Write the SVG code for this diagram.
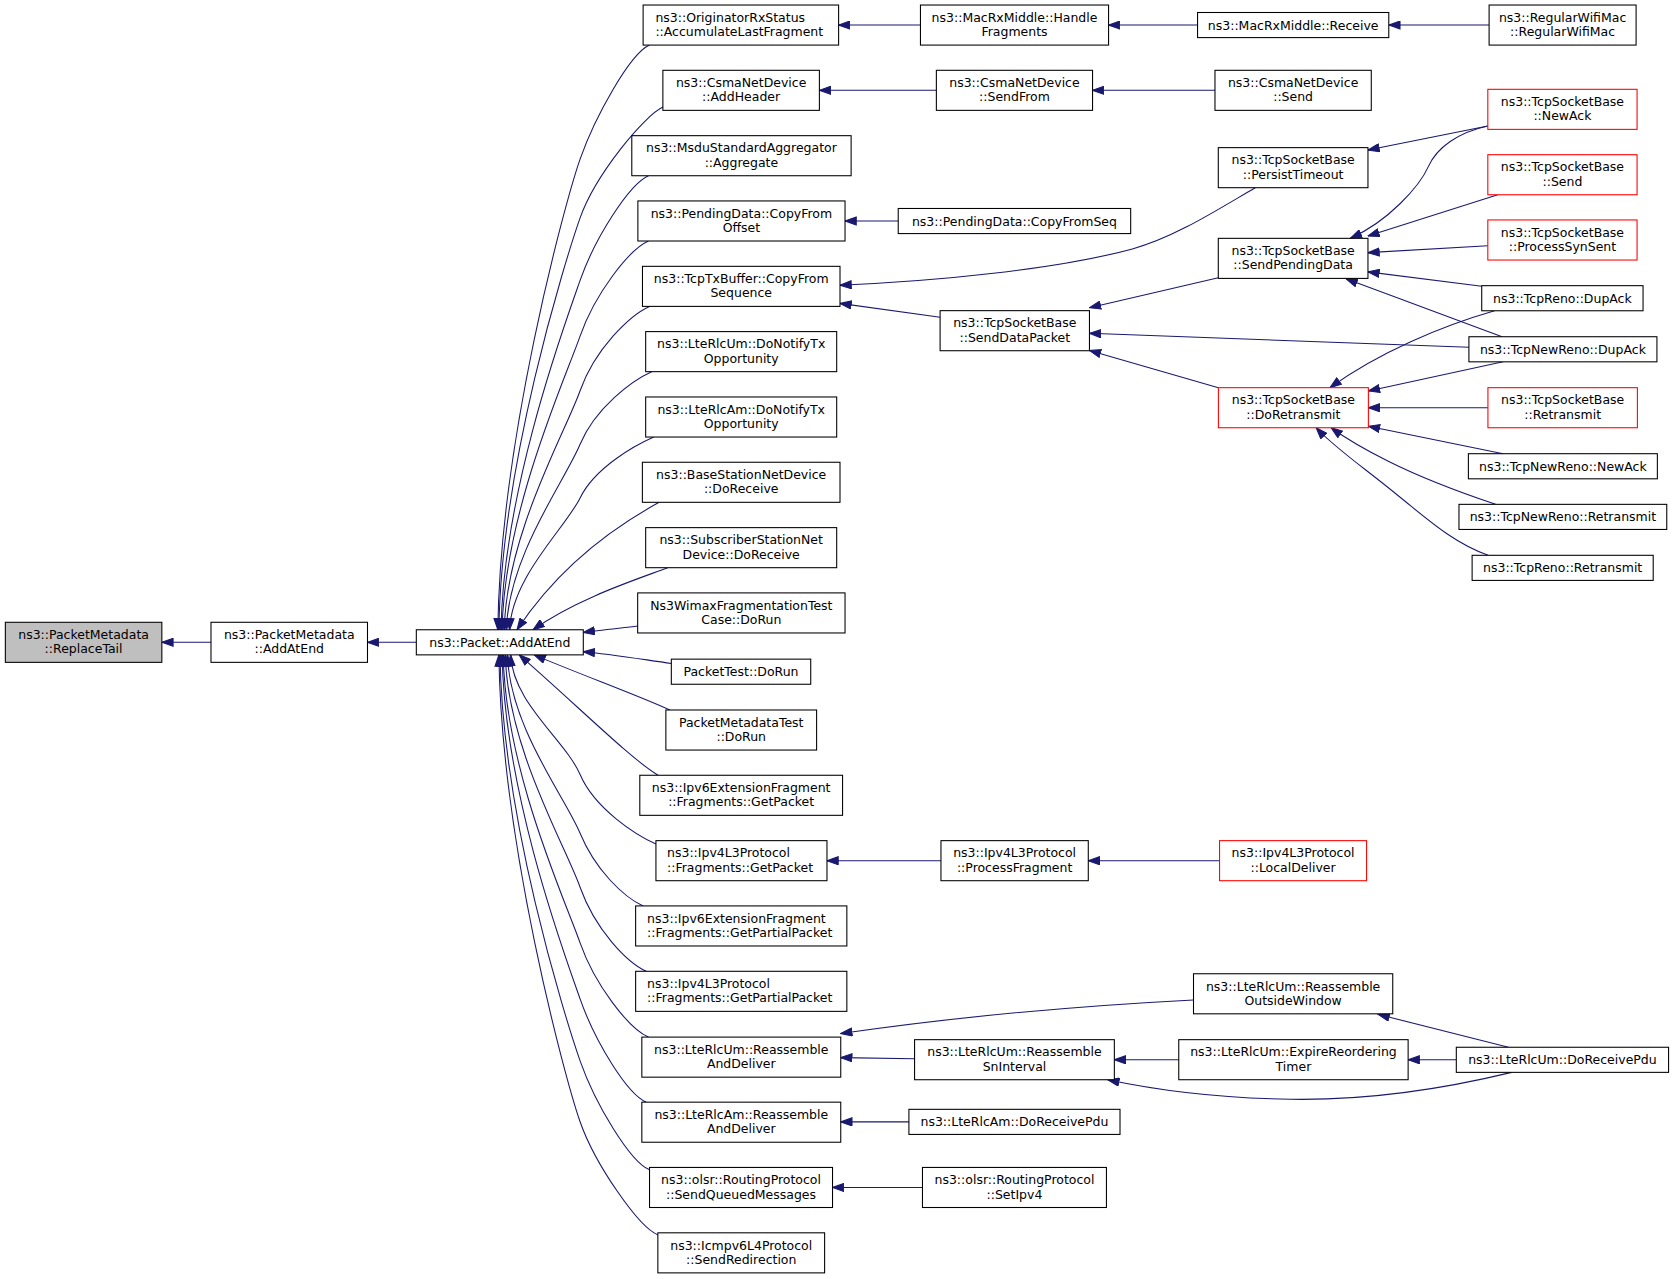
<svg xmlns="http://www.w3.org/2000/svg" width="1675" height="1279" viewBox="0 0 1675 1279">
<style>
.n rect{fill:#ffffff;stroke:#000000;stroke-width:1}
.n.r rect{stroke:#ff0000}
.n.g rect{fill:#bfbfbf}
text{font-family:'DejaVu Sans','Liberation Sans',sans-serif;font-size:11.7px;fill:#000000;text-anchor:middle}
text.l{text-anchor:start}
#edges path{fill:none;stroke:#191970;stroke-width:1;marker-end:url(#ah)}
</style>
<defs>
<marker id="ah" viewBox="0 0 11.5 8.5" refX="11" refY="4.25" markerWidth="11.5" markerHeight="8.5" orient="auto" markerUnits="userSpaceOnUse">
<path d="M0.5,0.5 L11,4.25 L0.5,8 z" fill="#191970" stroke="#191970" stroke-width="1"/>
</marker>
</defs>
<rect x="0" y="0" width="1675" height="1279" fill="#ffffff"/>
<g transform="scale(1.0683)">
<g id="edges">
<path d="M197.5,601.25 L151.5,601.25"/>
<path d="M389.7,601.25 L344,601.25"/>
<path d="M608,42.2 C590,50 557,109 543,149 S468,413 466,589.5"/>
<path d="M621,100 C603,108 557,164 543,204 S469,436 467,589.5"/>
<path d="M607,164.5 C589,172.5 557,222.5 543,262.5 S471,459 469,589.5"/>
<path d="M607,225.6 C589,233.6 557,274.6 543,314.6 S472,479.5 470,589.5"/>
<path d="M608,286.8 C590,294.8 557,326.3 543,365.8 S474,500 472,589.5"/>
<path d="M610,347.9 C592,355.9 557,381.9 543,415.9 S476,520 474,589.5"/>
<path d="M612,409.1 C594,417 557,437.6 543,466.1 S479,540 477,589.5"/>
<path d="M617,470.2 C590,485 530,520 484,589.5"/>
<path d="M625,531.4 C600,541 540,560 499,589.5"/>
<path d="M597,586 C580,588 560,590 546,592"/>
<path d="M628.4,621 C600,617 570,612 546,610"/>
<path d="M627,664.6 C600,652 545,632 500,613"/>
<path d="M616,725.7 C590,710 540,660 486,613"/>
<path d="M614,790 C596,782 557,757.5 543,725 S480,658 478,613"/>
<path d="M602,848 C584,840 557,814 543,780 S477,680 475,613"/>
<path d="M605,909.2 C587,901 557,870 543,830.5 S475,700 473,613"/>
<path d="M607,970.8 C589,963 557,922.6 543,882.6 S473,721 471,613"/>
<path d="M605,1031.7 C587,1024 557,975 543,935 S472,742 470,613"/>
<path d="M608,1095 C590,1088 557,1033 543,993 S470,765 468,613"/>
<path d="M616,1156 C598,1149 557,1090 543,1050 S469,788 467,613"/>
<path d="M861.6,23.45 L785,23.45"/>
<path d="M1121,23.45 L1037.7,23.45"/>
<path d="M1393.9,23.45 L1300,23.45"/>
<path d="M876.5,84.55 L767,84.55"/>
<path d="M1137.3,84.55 L1022.7,84.55"/>
<path d="M840.8,206.9 L791,206.9"/>
<path d="M1175,175.7 C1140,196 1100,222 1060,233 C990,252 880,263 786.3,267"/>
<path d="M880,297 L786.3,284"/>
<path d="M1140.4,260 L1019.8,288"/>
<path d="M1375,325 L1019.8,312"/>
<path d="M1140.5,363 L1019.8,328"/>
<path d="M1392.7,118 L1280.5,140.5"/>
<path d="M1392.7,118 C1365,124 1345,138 1337,156 S1300,207 1264,223"/>
<path d="M1402,182.3 L1280.5,221"/>
<path d="M1392.7,230 L1280.5,236.5"/>
<path d="M1387,268 L1280.5,254.5"/>
<path d="M1406,315.2 L1260,261"/>
<path d="M1399,290.9 C1350,305 1290,330 1245,362.9"/>
<path d="M1407,338.7 L1280.9,366"/>
<path d="M1392.8,381.65 L1280.9,381.65"/>
<path d="M1407,424.7 L1280.9,399"/>
<path d="M1400,472.1 C1370,462 1330,447 1300,432 C1280,422 1262,412 1246,400.4"/>
<path d="M1393,519.8 C1360,508 1335,485 1310,465 C1280,440 1250,420 1232,400.4"/>
<path d="M880.8,805.65 L774.1,805.65"/>
<path d="M1141.6,805.65 L1018.7,805.65"/>
<path d="M1117.2,936 C1000,942 880,954 787,967.5"/>
<path d="M856.1,991 L787,990"/>
<path d="M1103.4,992 L1043.1,992"/>
<path d="M1363.2,992 L1318.1,992"/>
<path d="M1412,980.3 L1290,949.5"/>
<path d="M1415,1003.8 C1340,1022 1270,1030 1208,1029 C1150,1028 1090,1022 1037,1010.7"/>
<path d="M850.8,1050.15 L787,1050.15"/>
<path d="M863.5,1111.55 L779.3,1111.55"/>
</g>
<g id="n_replacetail" class="n g"><rect x="5" y="582.5" width="146.5" height="37.5"/><text x="78.25" y="598.2">ns3::PacketMetadata</text><text x="78.25" y="611.6">::ReplaceTail</text></g>
<g id="n_pm_addatend" class="n"><rect x="197.5" y="582.5" width="146.5" height="37.5"/><text x="270.75" y="598.2">ns3::PacketMetadata</text><text x="270.75" y="611.6">::AddAtEnd</text></g>
<g id="n_packet_addatend" class="n"><rect x="389.7" y="589.5" width="156.3" height="23.5"/><text x="467.85" y="605.5">ns3::Packet::AddAtEnd</text></g>
<g id="n_originator" class="n"><rect x="602" y="4.7" width="183" height="37.5"/><text class="l" x="613.5" y="20.4">ns3::OriginatorRxStatus</text><text class="l" x="613.5" y="33.8">::AccumulateLastFragment</text></g>
<g id="n_csma_addheader" class="n"><rect x="620.5" y="65.8" width="146.5" height="37.5"/><text x="693.75" y="81.5">ns3::CsmaNetDevice</text><text x="693.75" y="94.9">::AddHeader</text></g>
<g id="n_msdu" class="n"><rect x="591.4" y="127" width="205.3" height="37.5"/><text x="694" y="142.7">ns3::MsduStandardAggregator</text><text x="694" y="156.1">::Aggregate</text></g>
<g id="n_pending_offset" class="n"><rect x="597.1" y="188.1" width="193.9" height="37.5"/><text x="694" y="203.8">ns3::PendingData::CopyFrom</text><text x="694" y="217.2">Offset</text></g>
<g id="n_txbuffer" class="n"><rect x="601.4" y="249.3" width="184.9" height="37.5"/><text x="693.85" y="265">ns3::TcpTxBuffer::CopyFrom</text><text x="693.85" y="278.4">Sequence</text></g>
<g id="n_rlcum_notify" class="n"><rect x="604.4" y="310.4" width="178.8" height="37.5"/><text x="693.8" y="326.1">ns3::LteRlcUm::DoNotifyTx</text><text x="693.8" y="339.5">Opportunity</text></g>
<g id="n_rlcam_notify" class="n"><rect x="604.4" y="371.6" width="178.8" height="37.5"/><text x="693.8" y="387.3">ns3::LteRlcAm::DoNotifyTx</text><text x="693.8" y="400.7">Opportunity</text></g>
<g id="n_bs_receive" class="n"><rect x="601.3" y="432.7" width="185" height="37.5"/><text x="693.8" y="448.4">ns3::BaseStationNetDevice</text><text x="693.8" y="461.8">::DoReceive</text></g>
<g id="n_ss_receive" class="n"><rect x="604.4" y="493.9" width="178.8" height="37.5"/><text x="693.8" y="509.6">ns3::SubscriberStationNet</text><text x="693.8" y="523">Device::DoReceive</text></g>
<g id="n_wimaxtest" class="n"><rect x="596.9" y="555" width="194.1" height="37.5"/><text x="693.95" y="570.7">Ns3WimaxFragmentationTest</text><text x="693.95" y="584.1">Case::DoRun</text></g>
<g id="n_packettest" class="n"><rect x="628.4" y="617" width="130.5" height="23.5"/><text x="693.65" y="633">PacketTest::DoRun</text></g>
<g id="n_pmtest" class="n"><rect x="623.3" y="664.6" width="141.1" height="37.5"/><text x="693.85" y="680.3">PacketMetadataTest</text><text x="693.85" y="693.7">::DoRun</text></g>
<g id="n_ipv6_getpacket" class="n"><rect x="598.9" y="725.7" width="189.8" height="37.5"/><text x="693.8" y="741.4">ns3::Ipv6ExtensionFragment</text><text x="693.8" y="754.8">::Fragments::GetPacket</text></g>
<g id="n_ipv4_getpacket" class="n"><rect x="614" y="786.9" width="160.1" height="37.5"/><text class="l" x="624.4" y="802.6">ns3::Ipv4L3Protocol</text><text class="l" x="624.4" y="816">::Fragments::GetPacket</text></g>
<g id="n_ipv6_partial" class="n"><rect x="595" y="848" width="197.7" height="37.5"/><text class="l" x="605.7" y="863.7">ns3::Ipv6ExtensionFragment</text><text class="l" x="605.7" y="877.1">::Fragments::GetPartialPacket</text></g>
<g id="n_ipv4_partial" class="n"><rect x="595" y="909.2" width="197.7" height="37.5"/><text class="l" x="605.7" y="924.9">ns3::Ipv4L3Protocol</text><text class="l" x="605.7" y="938.3">::Fragments::GetPartialPacket</text></g>
<g id="n_rlcum_reasm" class="n"><rect x="600.8" y="970.8" width="186.2" height="37.5"/><text x="693.9" y="986.5">ns3::LteRlcUm::Reassemble</text><text x="693.9" y="999.9">AndDeliver</text></g>
<g id="n_rlcam_reasm" class="n"><rect x="600.8" y="1031.7" width="186.2" height="37.5"/><text x="693.9" y="1047.4">ns3::LteRlcAm::Reassemble</text><text x="693.9" y="1060.8">AndDeliver</text></g>
<g id="n_olsr_queued" class="n"><rect x="608" y="1092.8" width="171.3" height="37.5"/><text x="693.65" y="1108.5">ns3::olsr::RoutingProtocol</text><text x="693.65" y="1121.9">::SendQueuedMessages</text></g>
<g id="n_icmpv6" class="n"><rect x="615.8" y="1154" width="156.1" height="37.5"/><text x="693.85" y="1169.7">ns3::Icmpv6L4Protocol</text><text x="693.85" y="1183.1">::SendRedirection</text></g>
<g id="n_handlefrag" class="n"><rect x="861.6" y="4.7" width="176.1" height="37.5"/><text x="949.65" y="20.4">ns3::MacRxMiddle::Handle</text><text x="949.65" y="33.8">Fragments</text></g>
<g id="n_sendfrom" class="n"><rect x="876.5" y="65.8" width="146.2" height="37.5"/><text x="949.6" y="81.5">ns3::CsmaNetDevice</text><text x="949.6" y="94.9">::SendFrom</text></g>
<g id="n_copyfromseq" class="n"><rect x="840.8" y="195.15" width="217.6" height="23.5"/><text x="949.6" y="211.2">ns3::PendingData::CopyFromSeq</text></g>
<g id="n_senddatapacket" class="n"><rect x="880" y="290.8" width="139.8" height="37.5"/><text x="949.9" y="306.5">ns3::TcpSocketBase</text><text x="949.9" y="319.9">::SendDataPacket</text></g>
<g id="n_processfragment" class="n"><rect x="880.8" y="786.9" width="137.9" height="37.5"/><text x="949.75" y="802.6">ns3::Ipv4L3Protocol</text><text x="949.75" y="816">::ProcessFragment</text></g>
<g id="n_sninterval" class="n"><rect x="856.1" y="973.2" width="187" height="37.5"/><text x="949.6" y="988.9">ns3::LteRlcUm::Reassemble</text><text x="949.6" y="1002.3">SnInterval</text></g>
<g id="n_rlcam_rxpdu" class="n"><rect x="850.8" y="1038.4" width="197.6" height="23.5"/><text x="949.6" y="1054.4">ns3::LteRlcAm::DoReceivePdu</text></g>
<g id="n_setipv4" class="n"><rect x="863.5" y="1092.8" width="172.2" height="37.5"/><text x="949.6" y="1108.5">ns3::olsr::RoutingProtocol</text><text x="949.6" y="1121.9">::SetIpv4</text></g>
<g id="n_receive" class="n"><rect x="1121" y="11.7" width="179" height="23.5"/><text x="1210.5" y="27.7">ns3::MacRxMiddle::Receive</text></g>
<g id="n_csma_send" class="n"><rect x="1137.3" y="65.8" width="146.3" height="37.5"/><text x="1210.45" y="81.5">ns3::CsmaNetDevice</text><text x="1210.45" y="94.9">::Send</text></g>
<g id="n_persist" class="n"><rect x="1140.4" y="138.2" width="140.1" height="37.5"/><text x="1210.45" y="153.9">ns3::TcpSocketBase</text><text x="1210.45" y="167.3">::PersistTimeout</text></g>
<g id="n_sendpending" class="n"><rect x="1140.4" y="223.1" width="140.1" height="37.5"/><text x="1210.45" y="238.8">ns3::TcpSocketBase</text><text x="1210.45" y="252.2">::SendPendingData</text></g>
<g id="n_doretransmit" class="n r"><rect x="1140.5" y="362.9" width="140.4" height="37.5"/><text x="1210.7" y="378.6">ns3::TcpSocketBase</text><text x="1210.7" y="392">::DoRetransmit</text></g>
<g id="n_localdeliver" class="n r"><rect x="1141.6" y="786.9" width="137.6" height="37.5"/><text x="1210.4" y="802.6">ns3::Ipv4L3Protocol</text><text x="1210.4" y="816">::LocalDeliver</text></g>
<g id="n_outsidewindow" class="n"><rect x="1117.2" y="911.5" width="186.5" height="37.5"/><text x="1210.45" y="927.2">ns3::LteRlcUm::Reassemble</text><text x="1210.45" y="940.6">OutsideWindow</text></g>
<g id="n_expire" class="n"><rect x="1103.4" y="973.2" width="214.7" height="37.5"/><text x="1210.75" y="988.9">ns3::LteRlcUm::ExpireReordering</text><text x="1210.75" y="1002.3">Timer</text></g>
<g id="n_regularwifimac" class="n"><rect x="1393.9" y="4.7" width="137.6" height="37.5"/><text x="1462.7" y="20.4">ns3::RegularWifiMac</text><text x="1462.7" y="33.8">::RegularWifiMac</text></g>
<g id="n_newack" class="n r"><rect x="1392.7" y="83.6" width="139.7" height="37.5"/><text x="1462.55" y="99.3">ns3::TcpSocketBase</text><text x="1462.55" y="112.7">::NewAck</text></g>
<g id="n_tcpsend" class="n r"><rect x="1392.7" y="144.8" width="139.7" height="37.5"/><text x="1462.55" y="160.5">ns3::TcpSocketBase</text><text x="1462.55" y="173.9">::Send</text></g>
<g id="n_synsent" class="n r"><rect x="1392.7" y="205.9" width="139.7" height="37.5"/><text x="1462.55" y="221.6">ns3::TcpSocketBase</text><text x="1462.55" y="235">::ProcessSynSent</text></g>
<g id="n_reno_dupack" class="n"><rect x="1387" y="267.4" width="151" height="23.5"/><text x="1462.5" y="283.4">ns3::TcpReno::DupAck</text></g>
<g id="n_newreno_dupack" class="n"><rect x="1375" y="315.2" width="176" height="23.5"/><text x="1463" y="331.2">ns3::TcpNewReno::DupAck</text></g>
<g id="n_retransmit" class="n r"><rect x="1392.8" y="362.9" width="139.9" height="37.5"/><text x="1462.75" y="378.6">ns3::TcpSocketBase</text><text x="1462.75" y="392">::Retransmit</text></g>
<g id="n_newreno_newack" class="n"><rect x="1374.5" y="424.7" width="176.9" height="23.5"/><text x="1462.95" y="440.7">ns3::TcpNewReno::NewAck</text></g>
<g id="n_newreno_retransmit" class="n"><rect x="1365.7" y="472.1" width="194.5" height="23.5"/><text x="1462.95" y="488.1">ns3::TcpNewReno::Retransmit</text></g>
<g id="n_reno_retransmit" class="n"><rect x="1378" y="519.8" width="169.5" height="23.5"/><text x="1462.75" y="535.8">ns3::TcpReno::Retransmit</text></g>
<g id="n_rlcum_rxpdu" class="n"><rect x="1363.2" y="980.3" width="198.7" height="23.5"/><text x="1462.55" y="996.3">ns3::LteRlcUm::DoReceivePdu</text></g>
</g>
</svg>
